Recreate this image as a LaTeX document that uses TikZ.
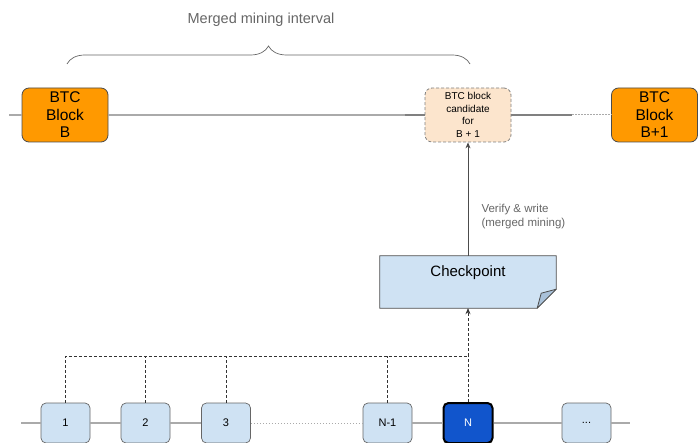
\documentclass[tikz,border=0pt]{standalone}
\usepackage{fontspec}
\setmainfont{Liberation Sans}
\usetikzlibrary{decorations.pathreplacing,arrows.meta}
\definecolor{btcorange}{HTML}{FF9900}
\definecolor{peach}{HTML}{FCE5CD}
\definecolor{lblue}{HTML}{CFE2F3}
\definecolor{foldblue}{HTML}{A9C1D9}
\definecolor{nblue}{HTML}{1155CC}
\definecolor{lgrey}{HTML}{AAAAAA}
\definecolor{tgrey}{HTML}{666666}
\tikzset{
  btc/.style={draw=black!70, fill=btcorange, rounded corners=7pt, minimum width=86pt, minimum height=54pt, inner sep=0pt, align=center, font=\fontsize{15.5}{17.5}\selectfont, line width=0.8pt},
  cand/.style={draw=gray, dashed, dash pattern=on 3pt off 2pt, fill=peach, rounded corners=7pt, minimum width=86pt, minimum height=54pt, inner sep=0pt, align=center, font=\fontsize{10}{12.5}\selectfont, line width=0.8pt},
  blk/.style={draw=gray!80!black, fill=lblue, rounded corners=5pt, minimum width=49pt, minimum height=40pt, inner sep=0pt, font=\fontsize{11}{13}\selectfont, line width=0.7pt},
  chain/.style={draw=lgrey, line width=1.2pt},
  dline/.style={draw=black!80, dash pattern=on 3pt off 2pt, line width=0.7pt},
}
\begin{document}
\begin{tikzpicture}[x=1pt,y=-1pt]
\useasboundingbox (0,0) rectangle (698,443);
% top row
\node[btc] (bb) at (65,115) {BTC\\Block\\B};
\node[cand] (cand) at (468,115) {BTC block\\candidate\\for\\B + 1};
\node[btc] (bb1) at (654.5,115) {BTC\\Block\\B+1};
\coordinate (lstart) at (9,115);
\coordinate (dotstart) at (572,115);
\coordinate (rend) at (698,115);
\draw[draw=lgrey, line width=1.2pt] (lstart) -- (bb.west);
\draw[draw=lgrey, line width=1.2pt] (bb.east) -- (cand.west);
\draw[draw=gray, line width=1.2pt] (cand.west) ++(-20,0) -- (cand.west);
\draw[draw=gray, line width=1.2pt] (cand.east) -- (dotstart);
\draw[draw=lgrey, line width=1pt, dash pattern=on 1.5pt off 1.5pt] (dotstart) -- (bb1.west);
\draw[draw=lgrey, line width=1.2pt] (bb1.east) -- (rend);
% brace
\coordinate (brl) at (67,64);
\coordinate (brr) at (470,64);
\draw[draw=tgrey, line width=0.7pt, decorate, decoration={brace, amplitude=18pt, aspect=0.5}] (brl) -- (brr);
\node[text=tgrey, font=\fontsize{14.5}{16}\selectfont] (mmi) at (261,20) {Merged mining interval};
% checkpoint
\node[minimum width=176pt, minimum height=52pt, inner sep=0pt] (cp) at (468,282) {};
\draw[draw=black!70, fill=lblue, line width=0.8pt] (cp.north west) -- (cp.north east) -- ([yshift=19pt]cp.south east) -- ([xshift=-19pt]cp.south east) -- (cp.south west) -- cycle;
\draw[draw=black!70, fill=foldblue, line width=0.8pt, line join=round] ([xshift=-19pt]cp.south east) -- ([xshift=-15pt,yshift=15pt]cp.south east) -- ([yshift=19pt]cp.south east) -- cycle;
\node[font=\fontsize{15}{17}\selectfont] (cptext) at (468,273) {Checkpoint};
\draw[draw=black!70, line width=0.8pt, -{Stealth[length=6pt,width=5pt]}] (cp.north) -- (cand.south);
\node[text=tgrey, font=\fontsize{11.5}{14}\selectfont, align=left, anchor=west] (vw) at (478,217) {Verify \& write\\(merged mining)};
% bottom chain
\node[blk] (b1) at (65.5,423) {1};
\node[blk] (b2) at (145.5,423) {2};
\node[blk] (b3) at (226,423) {3};
\node[blk] (bn1) at (387.5,423) {N-1};
\node[blk, fill=nblue, draw=black, line width=2pt, text=white] (bn) at (468,423) {N};
\node[blk] (bdots) at (586.5,423) {...};
\coordinate (cstart) at (21,423);
\coordinate (cend) at (630,423);
\draw[chain] (cstart) -- (b1.west);
\draw[chain] (b1.east) -- (b2.west);
\draw[chain] (b2.east) -- (b3.west);
\draw[draw=lgrey, line width=1pt, dash pattern=on 1.5pt off 1.5pt] (b3.east) -- (bn1.west);
\draw[chain] (bn1.east) -- (bn.west);
\draw[chain] (bn.east) -- (bdots.west);
\draw[chain] (bdots.east) -- (cend);
% dashed collectors
\coordinate (j) at (468,356);
\draw[dline] (b1.north) |- (j);
\draw[dline] (b2.north) -- (b2.north |- j);
\draw[dline] (b3.north) -- (b3.north |- j);
\draw[dline] (bn1.north) -- (bn1.north |- j);
\draw[dline] (bn.north) -- (j);
\draw[dline, -{Stealth[length=6pt,width=5pt]}] (j) -- (cp.south);
\end{tikzpicture}
\end{document}
